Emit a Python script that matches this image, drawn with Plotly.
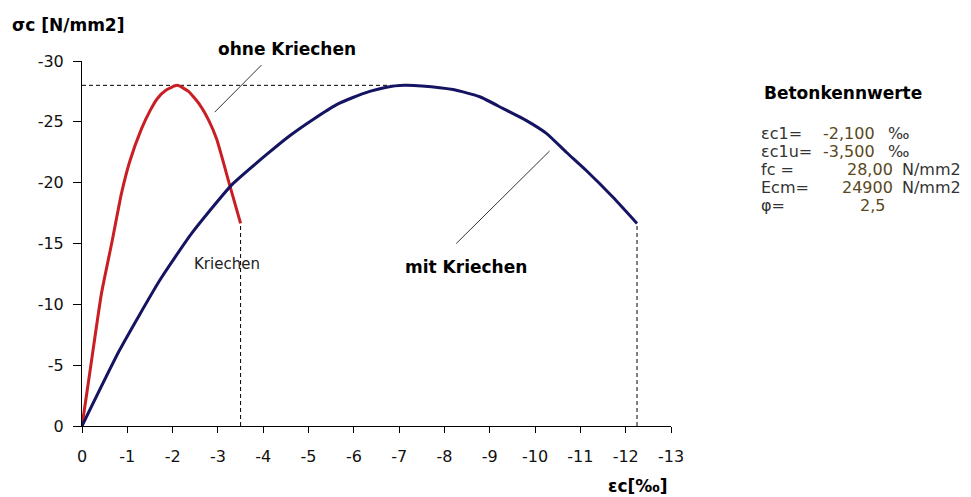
import plotly.graph_objects as go

# Stress-strain curves for concrete (strain in per mille, stress in N/mm2)
eps_ohne = [0, 0.2, 0.43, 0.66, 0.87, 1.05, 1.31, 1.5, 1.66, 1.85, 2.1, 2.35, 2.6, 2.8, 2.97, 3.26, 3.5]
sig_ohne = [0, 5.1, 10.9, 15.1, 19.1, 21.7, 24.4, 25.9, 26.9, 27.6, 28.0, 27.5, 26.4, 25.1, 23.6, 19.8, 16.65]

eps_mit = [0, 0.83, 1.72, 2.42, 3.30, 4.07, 4.6, 5.1, 5.61, 5.98, 6.35, 6.72, 7.1, 7.5, 8.19, 8.78,
           9.29, 9.81, 10.25, 10.69, 11.13, 11.72, 12.25]
sig_mit = [0, 6.24, 12.0, 15.83, 19.8, 22.3, 23.9, 25.2, 26.4, 27.0, 27.5, 27.85, 28.0, 27.95, 27.65, 27.06,
           26.1, 25.1, 24.05, 22.5, 21.0, 18.8, 16.65]

x_ticks = [0, -1, -2, -3, -4, -5, -6, -7, -8, -9, -10, -11, -12, -13]
y_ticks = [0, -5, -10, -15, -20, -25, -30]

# Concrete parameters listed beside the chart
param_names = ["\u03b5c1=", "\u03b5c1u=", "fc =", "Ecm=", "\u03c6="]
param_values = ["-2,100", "-3,500", "28,00", "24900", "2,5"]
param_units = ["\u2030", "\u2030", "N/mm2", "N/mm2", ""]

FONT = "DejaVu Sans"
W, H = 971, 497
L, R, T, B = 82, 300, 61, 71

def px(xp):
    return (xp - L) / (W - L - R)

def py(yp):
    return (H - B - yp) / (H - T - B)

fig = go.Figure()

fig.add_trace(go.Scatter(
    x=[-e for e in eps_ohne], y=[-s for s in sig_ohne],
    mode="lines", line=dict(color="#c81e24", width=3, shape="spline", smoothing=0.5),
    hoverinfo="skip", showlegend=False))
fig.add_trace(go.Scatter(
    x=[-e for e in eps_mit], y=[-s for s in sig_mit],
    mode="lines", line=dict(color="#141462", width=3, shape="spline", smoothing=0.5),
    hoverinfo="skip", showlegend=False))

dash = dict(color="black", width=1, dash="4px,3px")
peak_i = sig_mit.index(max(sig_mit))
# horizontal line at the peak stress
fig.add_shape(type="line", x0=0, x1=-eps_mit[peak_i], y0=-max(sig_ohne), y1=-max(sig_mit),
              line=dash, layer="below")
# vertical lines at ultimate strain
fig.add_shape(type="line", x0=-eps_ohne[-1], x1=-eps_ohne[-1], y0=0, y1=-sig_ohne[-1], line=dash, layer="below")
fig.add_shape(type="line", x0=-eps_mit[-1], x1=-eps_mit[-1], y0=0, y1=-sig_mit[-1], line=dash, layer="below")

# leader lines to the curve labels
lead = dict(color="#333333", width=1)
fig.add_shape(type="line", x0=-2.93, y0=-25.8, x1=-3.96, y1=-29.66, line=lead)
fig.add_shape(type="line", x0=-8.26, y0=-15.0, x1=-10.32, y1=-22.6, line=lead)

ann = []
def text(x, y, s, size=16, bold=False, color="#000000", xanchor="center"):
    ann.append(dict(x=px(x), y=py(y), xref="paper", yref="paper", text=(f"<b>{s}</b>" if bold else s),
                    showarrow=False, xanchor=xanchor, yanchor="middle",
                    font=dict(family=FONT, size=size, color=color)))

text(10, 25, "\u03c3c [N/mm2]", size=17, bold=True, xanchor="left")
text(670, 486, "\u03b5c[\u2030]", size=17, bold=True, xanchor="right")
text(287, 49, "ohne Kriechen", size=17, bold=True)
text(466, 267, "mit Kriechen", size=17, bold=True)
text(227, 264, "Kriechen", size=15, color="#222222")

text(762, 93, "Betonkennwerte", size=17, bold=True, xanchor="left")
rows_y = [133, 151, 169, 187, 205]
value_right = [877, 877, 895, 895, 887]
for i in range(len(param_names)):
    text(759, rows_y[i], param_names[i], size=16, color="#333333", xanchor="left")
    text(value_right[i], rows_y[i], param_values[i], size=16, color="#5a4720", xanchor="right")
    if param_units[i]:
        ux = 886 if param_units[i] == "\u2030" else 900
        text(ux, rows_y[i], param_units[i], size=16, color="#333333", xanchor="left")

fig.update_layout(
    width=W, height=H, margin=dict(l=L, r=R, t=T, b=B),
    paper_bgcolor="white", plot_bgcolor="white",
    annotations=ann,
    xaxis=dict(range=[0, -13], tickvals=x_ticks, ticktext=[str(v) for v in x_ticks],
               showgrid=False, zeroline=False, showline=True, linecolor="black", linewidth=1,
               ticks="outside", ticklen=6, tickcolor="black", ticklabelstandoff=10,
               tickfont=dict(family=FONT, size=16, color="#111111")),
    yaxis=dict(range=[0, -30], tickvals=y_ticks, ticktext=[str(v) for v in y_ticks],
               showgrid=False, zeroline=False, showline=True, linecolor="black", linewidth=1,
               ticks="outside", ticklen=8, tickcolor="black", ticklabelstandoff=6,
               tickfont=dict(family=FONT, size=16, color="#111111")),
)

fig.write_html("out.html")
